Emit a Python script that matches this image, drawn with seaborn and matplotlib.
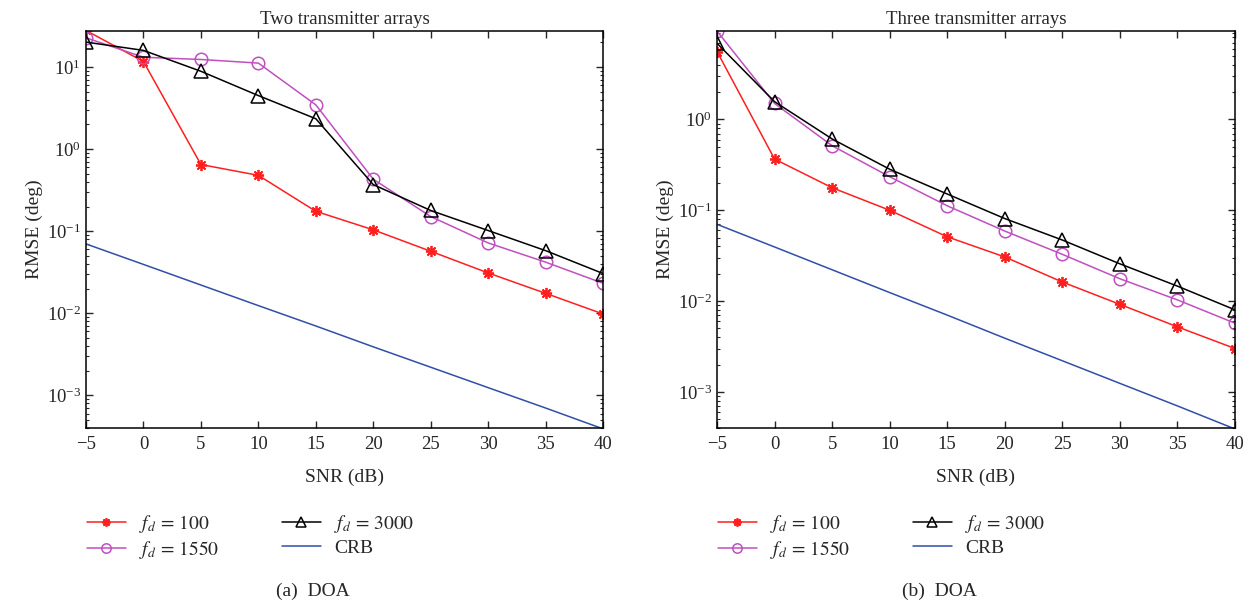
import numpy as np
import pandas as pd
import seaborn as sb
import matplotlib
matplotlib.use("Agg")
import matplotlib.pyplot as plt
from matplotlib.ticker import LogLocator, NullFormatter

snr = [-5, 0, 5, 10, 15, 20, 25, 30, 35, 40]

# (a) two transmitter arrays
two_fd100 = [28.0, 11.7, 0.65, 0.48, 0.175, 0.104, 0.057, 0.031, 0.0175, 0.0098]
two_fd1550 = [22.8, 13.2, 12.4, 11.2, 3.47, 0.43, 0.151, 0.072, 0.042, 0.0232]
two_fd3000 = [20.2, 16.0, 8.9, 4.5, 2.35, 0.37, 0.179, 0.102, 0.058, 0.0305]

# (b) three transmitter arrays
three_fd100 = [5.6, 0.366, 0.177, 0.100, 0.051, 0.0306, 0.0162, 0.0092, 0.0052, 0.0030]
three_fd1550 = [9.4, 1.50, 0.514, 0.234, 0.112, 0.059, 0.0327, 0.0176, 0.0103, 0.0057]
three_fd3000 = [6.9, 1.57, 0.61, 0.283, 0.151, 0.081, 0.047, 0.0257, 0.0146, 0.0080]

crb = [0.070, 0.0394, 0.0221, 0.0124, 0.0070, 0.0039, 0.0022, 0.00124, 0.00070, 0.00039]

titles = ["Two transmitter arrays", "Three transmitter arrays"]
captions = ["(a)  DOA", "(b)  DOA"]
ylims = [(4e-4, 27.5), (4e-4, 9.4)]

sb.set_style("ticks")
plt.rcParams['font.family'] = ['Liberation Serif', 'DejaVu Serif']
plt.rcParams['mathtext.fontset'] = 'stix'
plt.rcParams['xtick.direction'] = 'in'
plt.rcParams['ytick.direction'] = 'in'

fig = plt.figure(figsize=(12.52, 6.05), dpi=100)
axes = [fig.add_axes([0.0687, 0.2926, 0.413, 0.656]),
        fig.add_axes([0.5727, 0.2926, 0.4137, 0.656])]

panels = [(two_fd100, two_fd1550, two_fd3000), (three_fd100, three_fd1550, three_fd3000)]

red = "#ff1f1f"
mag = "#c04fc0"
blue = "#2f4fa8"

for i, ax in enumerate(axes):
    f100, f1550, f3000 = panels[i]
    df = pd.DataFrame({"SNR": snr, "f100": f100, "f1550": f1550, "f3000": f3000, "CRB": crb})
    sb.lineplot(data=df, x="SNR", y="f100", ax=ax, color=red, lw=1.1,
                marker=(8, 2, 0), markersize=8, markeredgewidth=1.3, markeredgecolor=red,
                label=r"$f_d\,=\,100$")
    sb.lineplot(data=df, x="SNR", y="f1550", ax=ax, color=mag, lw=1.1,
                marker="o", markersize=9, markerfacecolor="none", markeredgewidth=1.1,
                markeredgecolor=mag, label=r"$f_d\,=\,1550$")
    sb.lineplot(data=df, x="SNR", y="f3000", ax=ax, color="black", lw=1.1,
                marker="^", markersize=10, markerfacecolor="none", markeredgewidth=1.1,
                markeredgecolor="black", label=r"$f_d\,=\,3000$")
    sb.lineplot(data=df, x="SNR", y="CRB", ax=ax, color=blue, lw=1.1, label="CRB")

    ax.set_yscale("log")
    ax.set_xlim(-5, 40)
    ax.set_ylim(*ylims[i])
    ax.set_xticks(snr)
    ax.set_xticklabels([str(s).replace("-", "\u2212") for s in snr])
    ax.yaxis.set_major_locator(LogLocator(base=10, numticks=10))
    ax.yaxis.set_minor_locator(LogLocator(base=10, subs=np.arange(2, 10), numticks=20))
    ax.yaxis.set_minor_formatter(NullFormatter())
    ax.tick_params(which="both", top=True, right=True, labelsize=13.5)
    ax.tick_params(axis="x", pad=6)
    ax.tick_params(which="major", length=5, width=1)
    ax.tick_params(which="minor", length=2.5, width=0.8)
    for sp in ax.spines.values():
        sp.set_linewidth(1.1)
        sp.set_color("black")

    ax.set_title(titles[i], fontsize=13.5, pad=5)
    ax.set_xlabel("SNR (dB)", fontsize=14, labelpad=11)
    ax.set_ylabel("RMSE (deg)", fontsize=14, labelpad=3)

    pos = ax.get_position()
    ax.legend(loc="upper left", bbox_to_anchor=(pos.x0 + 0.0005, 0.152),
              bbox_transform=fig.transFigure, ncol=2, frameon=False,
              fontsize=14, handlelength=2.0, handletextpad=0.7, markerscale=0.75,
              columnspacing=3.2, labelspacing=0.2, borderaxespad=0, borderpad=0)

    fig.text(0.25 + 0.5 * i, 0.008, captions[i], ha="center", va="bottom", fontsize=14)

fig.savefig("out.png", dpi=100)
